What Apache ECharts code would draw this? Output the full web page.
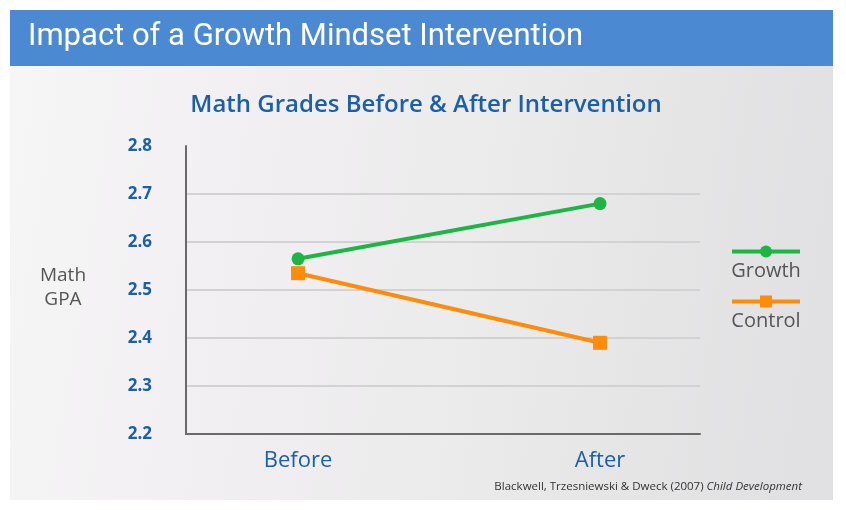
<!DOCTYPE html>
<html>
<head>
<meta charset="utf-8">
<script src="https://cdn.jsdelivr.net/npm/echarts@6/dist/echarts.min.js"></script>
<style>
html,body{margin:0;padding:0;background:#ffffff;}
#chart{width:846px;height:510px;}
</style>
</head>
<body>
<div id="chart"></div>
<script>
const categories = ['Before', 'After'];
const growthValues = [2.565, 2.68];
const controlValues = [2.535, 2.39];
const yTicks = [2.2, 2.3, 2.4, 2.5, 2.6, 2.7, 2.8];
const seriesNames = ['Growth', 'Control'];

const blue = '#1b5fa6';
const green = '#1db644';
const orange = '#fd8c0c';

const chart = echarts.init(document.getElementById('chart'), null, {renderer: 'canvas'});

function toPairs(vals) { return vals.map((v, i) => [i, v]); }

const option = {
  backgroundColor: '#ffffff',
  animation: false,
  graphic: [
    { type: 'rect', z: -10, shape: {x: 10, y: 66, width: 823, height: 434},
      style: { fill: new echarts.graphic.LinearGradient(0, 0, 1, 0.3, [
        {offset: 0, color: '#f6f6f6'}, {offset: 0.3, color: '#f2eff2'},
        {offset: 0.6, color: '#ebebeb'}, {offset: 1, color: '#e1e0e2'}]) } },
    { type: 'rect', z: -9, shape: {x: 10, y: 10, width: 823, height: 56},
      style: { fill: '#4b8ad3' } },
    { type: 'text', left: 28, top: 22,
      style: { text: 'Impact of a Growth Mindset Intervention', fill: '#ffffff',
        font: '31px "Liberation Sans Narrow", "Roboto", sans-serif' } },
    { type: 'text', x: 63, y: 276,
      style: { text: 'Math', fill: '#555555', font: '19px "Open Sans", sans-serif', align: 'center', verticalAlign: 'middle' } },
    { type: 'text', x: 63, y: 300,
      style: { text: 'GPA', fill: '#555555', font: '19px "Open Sans", sans-serif', align: 'center', verticalAlign: 'middle' } },
    // legend
    { type: 'line', shape: {x1: 732, y1: 251.5, x2: 800, y2: 251.5}, style: {stroke: green, lineWidth: 4} },
    { type: 'circle', shape: {cx: 766, cy: 251.5, r: 6}, style: {fill: green} },
    { type: 'text', x: 766, y: 271,
      style: { text: seriesNames[0], fill: '#555555', font: '20px "Open Sans", sans-serif', align: 'center', verticalAlign: 'middle' } },
    { type: 'line', shape: {x1: 732, y1: 301.5, x2: 800, y2: 301.5}, style: {stroke: orange, lineWidth: 4} },
    { type: 'rect', shape: {x: 760, y: 295.5, width: 12, height: 12}, style: {fill: orange} },
    { type: 'text', x: 766, y: 321,
      style: { text: seriesNames[1], fill: '#555555', font: '20px "Open Sans", sans-serif', align: 'center', verticalAlign: 'middle' } },
    { type: 'text', right: 44, top: 481,
      style: { text: '{a|Blackwell, Trzesniewski & Dweck (2007) }{b|Child Development}',
        rich: { a: {fill: '#333333', font: '11.5px "Open Sans", sans-serif'},
                b: {fill: '#333333', font: 'italic 11.5px "Open Sans", sans-serif'} } } }
  ],
  title: {
    text: 'Math Grades Before & After Intervention',
    left: 421, top: 88, textAlign: 'center',
    textStyle: { color: blue, fontSize: 24, fontWeight: 600, fontFamily: 'Open Sans' }
  },
  grid: { left: 186, right: 146, top: 146, bottom: 76, containLabel: false },
  xAxis: {
    type: 'value', min: -0.371, max: 1.331,
    axisLine: { show: true, onZero: false, lineStyle: {color: '#6a6a6a', width: 2} },
    axisTick: { show: false },
    splitLine: { show: false },
    axisLabel: { show: true, customValues: [0, 1], formatter: v => categories[Math.round(v)],
      color: blue, fontSize: 22, fontFamily: 'Open Sans', margin: 16 }
  },
  yAxis: {
    type: 'value', min: 2.2, max: 2.8, interval: 0.1,
    axisLine: { show: true, onZero: false, lineStyle: {color: '#6a6a6a', width: 2} },
    axisTick: { show: false },
    splitLine: { show: true, showMinLine: false, showMaxLine: false, lineStyle: {color: '#d2d2d4', width: 2} },
    axisLabel: { color: blue, fontSize: 17, fontWeight: 'bold', fontFamily: 'Open Sans', margin: 34,
      formatter: v => { const t = yTicks.find(x => Math.abs(x - v) < 1e-6); return t !== undefined ? t.toFixed(1) : ''; } }
  },
  series: [
    { name: seriesNames[0], type: 'line', data: toPairs(growthValues),
      symbol: 'circle', symbolSize: 13, lineStyle: {color: green, width: 4}, itemStyle: {color: green} },
    { name: seriesNames[1], type: 'line', data: toPairs(controlValues),
      symbol: 'rect', symbolSize: 14, lineStyle: {color: orange, width: 4}, itemStyle: {color: orange} }
  ]
};
chart.setOption(option);
</script>
</body>
</html>
